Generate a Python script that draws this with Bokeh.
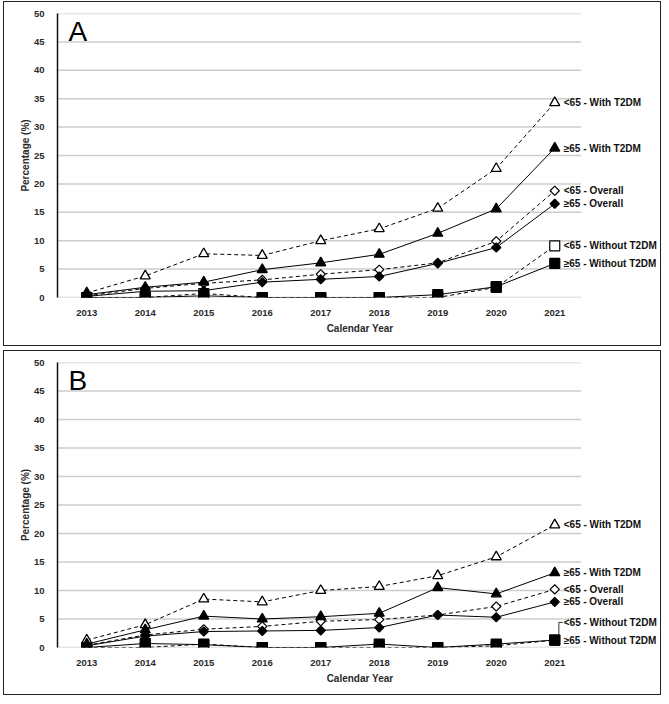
from bokeh.plotting import figure
from bokeh.models import Range1d, Label
from bokeh.layouts import column
from bokeh.embed import file_html
from bokeh.resources import INLINE
import math

years = [2013, 2014, 2015, 2016, 2017, 2018, 2019, 2020, 2021]
y_ticks = [0, 5, 10, 15, 20, 25, 30, 35, 40, 45, 50]

series_names = ["<65 - With T2DM", "\u226565 - With T2DM", "<65 - Overall",
                "\u226565 - Overall", "<65 - Without T2DM", "\u226565 - Without T2DM"]

# Panel A
a_lt65_with = [0.8, 3.8, 7.7, 7.4, 10.0, 12.1, 15.7, 22.7, 34.3]
a_ge65_with = [0.5, 1.8, 2.7, 4.9, 6.1, 7.6, 11.3, 15.6, 26.3]
a_lt65_overall = [0.3, 1.6, 2.5, 3.1, 4.1, 4.9, 6.1, 9.9, 18.8]
a_ge65_overall = [0.2, 1.1, 1.2, 2.7, 3.2, 3.7, 6.0, 8.8, 16.5]
a_lt65_without = [0.0, 0.0, 0.7, 0.0, 0.0, 0.0, 0.0, 1.8, 9.1]
a_ge65_without = [0.0, 0.0, 0.3, 0.0, 0.0, 0.0, 0.5, 1.9, 6.0]
a_label_y = [34.3, 26.3, 18.8, 16.5, 9.1, 6.0]

# Panel B
b_lt65_with = [1.3, 4.0, 8.5, 8.0, 10.0, 10.7, 12.6, 15.9, 21.5]
b_ge65_with = [0.6, 3.1, 5.5, 5.0, 5.4, 6.0, 10.5, 9.4, 13.1]
b_lt65_overall = [0.4, 2.2, 3.2, 3.7, 4.6, 4.9, 5.7, 7.2, 10.2]
b_ge65_overall = [0.3, 2.0, 2.8, 2.9, 3.0, 3.5, 5.7, 5.3, 8.0]
b_lt65_without = [0.0, 0.0, 0.6, 0.0, 0.0, 0.0, 0.0, 0.3, 1.3]
b_ge65_without = [0.0, 0.7, 0.5, 0.0, 0.0, 0.6, 0.0, 0.6, 1.3]
b_label_y = [21.5, 13.1, 10.2, 8.0, 4.4, 1.3]

FONT = "Liberation Sans"
W = 658
BL, BR = 53, 0
PX_PER_YEAR = 58.5
X0 = years[0] - 0.5
X_END = X0 + (W - BL - BR) / PX_PER_YEAR
GRID_END = years[-1] + 0.45


def make_panel(letter, data, label_y, height, top, bottom, leader=False):
    p = figure(width=W, height=height, x_range=Range1d(X0, X_END),
               y_range=Range1d(0, 50), output_backend="svg", toolbar_location=None,
               min_border_left=BL, min_border_right=BR, min_border_top=top,
               min_border_bottom=bottom)
    p.outline_line_color = None
    p.background_fill_color = "white"
    p.border_fill_color = "white"
    p.styles = {"border": "1.5px solid #222222", "box-sizing": "border-box"}
    p.xgrid.visible = False
    p.ygrid.visible = False
    p.xaxis.ticker = years
    p.yaxis.ticker = y_ticks
    for ax in (p.xaxis[0], p.yaxis[0]):
        ax.major_tick_line_color = None
        ax.minor_tick_line_color = None
        ax.major_label_text_font = FONT
        ax.major_label_text_font_style = "bold"
        ax.major_label_text_font_size = "9.5px"
        ax.major_label_text_color = "#2a2a2a"
        ax.axis_label_text_font = FONT
        ax.axis_label_text_font_style = "bold"
        ax.axis_label_text_font_size = "10px"
        ax.axis_label_text_color = "#2a2a2a"
    p.xaxis.axis_line_color = None
    p.yaxis.axis_line_color = "#111111"
    p.yaxis.axis_line_width = 1.5
    p.xaxis.axis_label = "Calendar Year"
    p.yaxis.axis_label = "Percentage (%)"
    p.xaxis.major_label_standoff = 6
    p.xaxis.axis_label_standoff = 4
    p.yaxis.major_label_standoff = 7
    p.yaxis.axis_label_standoff = 0

    # horizontal gridlines limited to the category area
    p.segment(x0=[X0] * len(y_ticks), x1=[GRID_END] * len(y_ticks),
              y0=y_ticks, y1=y_ticks, line_color="#cccccc", line_width=1.5)

    styles = [
        ("triangle", "white", "4 3"),
        ("triangle", "black", "solid"),
        ("diamond", "white", "4 3"),
        ("diamond", "black", "solid"),
        ("square", "white", "4 3"),
        ("square", "black", "solid"),
    ]
    order = [4, 5, 2, 3, 0, 1]
    for i in order:
        p.line(years, data[i], line_color="black", line_width=1,
               line_dash=styles[i][2])
    for i in order:
        marker, fill, _ = styles[i]
        if marker == "triangle":
            p.scatter(years, data[i], marker="triangle", size=10,
                      fill_color=fill, line_color="black", line_width=1.3)
        elif marker == "diamond":
            p.scatter(years, data[i], marker="square", size=6.5, angle=math.pi / 4,
                      fill_color=fill, line_color="black", line_width=1.2)
        else:
            p.scatter(years, data[i], marker="square", size=10,
                      fill_color=fill, line_color="black", line_width=1.2)

    for name, ly in zip(series_names, label_y):
        p.add_layout(Label(x=years[-1], y=ly, text=name, x_offset=9,
                           text_baseline="middle", text_align="left",
                           text_font=FONT, text_font_style="bold",
                           text_font_size="10px", text_color="#111111"))
    if leader:
        yl = label_y[4]
        p.line([years[-1] + 0.07, years[-1] + 0.07, years[-1] + 0.14],
               [data[4][-1] + 0.9, yl, yl], line_color="#333333", line_width=1)

    p.add_layout(Label(x=X0, y=50, text=letter, x_offset=11, y_offset=-2,
                       text_baseline="top", text_align="left", text_font=FONT,
                       text_font_size="28px", text_color="black"))
    return p


pa = make_panel("A", [a_lt65_with, a_ge65_with, a_lt65_overall, a_ge65_overall,
                      a_lt65_without, a_ge65_without], a_label_y, 345, 11, 50)
pb = make_panel("B", [b_lt65_with, b_ge65_with, b_lt65_overall, b_ge65_overall,
                      b_lt65_without, b_ge65_without], b_label_y, 345, 11, 49,
                leader=True)

layout = column(pa, pb, spacing=4)
layout.styles = {"padding-left": "3px", "padding-top": "1px"}
open("out.html", "w").write(file_html(layout, INLINE))
